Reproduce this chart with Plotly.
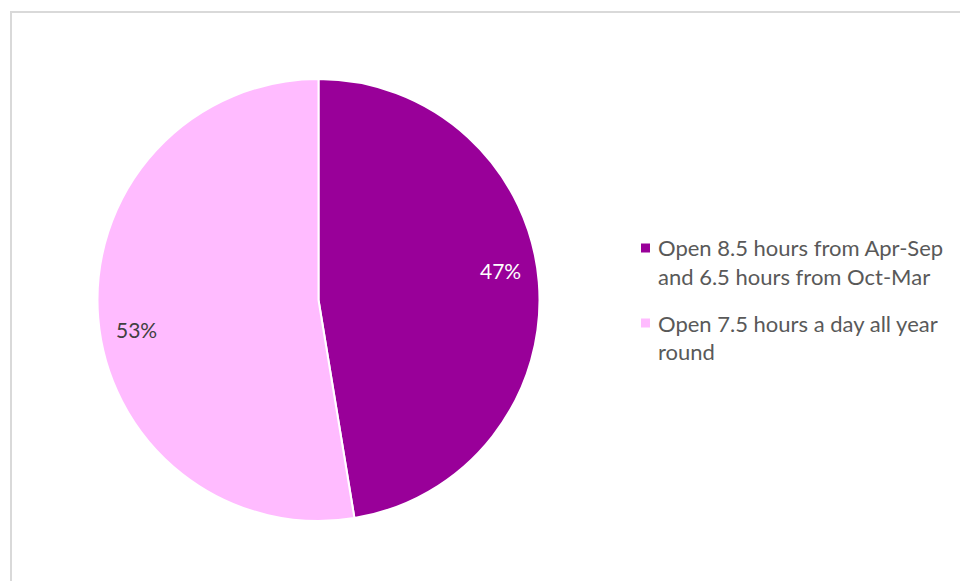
import math
import plotly.graph_objects as go

# Share of respondents by preferred opening pattern
labels = [
    "Open 8.5 hours from Apr-Sep and 6.5 hours from Oct-Mar",
    "Open 7.5 hours a day all year round",
]
legend_lines = [
    ["Open 8.5 hours from Apr-Sep", "and 6.5 hours from Oct-Mar"],
    ["Open 7.5 hours a day all year", "round"],
]
shares = [47.4, 52.6]
colors = ["#990099", "#FFBBFF"]
label_colors = ["#FFFFFF", "#404040"]

W, H = 960, 581
FONT = "Lato, 'Open Sans', sans-serif"

# pie geometry in pixels
cx, cy, r = 318.5, 300.0, 221.0
dom_x = [(cx - r) / W, (cx + r) / W]
dom_y = [1 - (cy + r) / H, 1 - (cy - r) / H]

fig = go.Figure(
    go.Pie(
        labels=labels,
        values=shares,
        sort=False,
        direction="clockwise",
        rotation=0,
        marker=dict(colors=colors, line=dict(color="#FFFFFF", width=2)),
        textinfo="none",
        hoverinfo="label+percent",
        showlegend=False,
        domain=dict(x=dom_x, y=dom_y),
    )
)

annotations = []
shapes = []

# percentage labels placed inside each slice
total = sum(shares)
start = 0.0
label_radius = 0.835 * r
angle_shift = 4.5
for val, col in zip(shares, label_colors):
    frac = val / total
    mid = (start + frac / 2) * 360 - angle_shift
    a = math.radians(mid)
    px = cx + label_radius * math.sin(a)
    py = cy - label_radius * math.cos(a)
    annotations.append(
        dict(
            x=px / W, y=1 - py / H, xref="paper", yref="paper",
            text=f"{round(frac * 100)}%", showarrow=False,
            font=dict(family=FONT, size=21, color=col),
            xanchor="center", yanchor="middle",
        )
    )
    start += frac

# legend: square swatch plus two-line caption for each slice
legend_tops = [248, 323]
line_gap = 28
for lines, col, y0 in zip(legend_lines, colors, legend_tops):
    shapes.append(
        dict(
            type="rect", xref="paper", yref="paper",
            x0=641 / W, x1=650 / W,
            y0=1 - (y0 - 4.5) / H, y1=1 - (y0 + 4.5) / H,
            fillcolor=col, line=dict(width=0),
        )
    )
    for i, t in enumerate(lines):
        annotations.append(
            dict(
                x=656 / W, y=1 - (y0 + i * line_gap) / H,
                xref="paper", yref="paper",
                text=t, showarrow=False,
                font=dict(family=FONT, size=22, color="#595959"),
                xanchor="left", yanchor="middle", align="left",
            )
        )

# chart frame
shapes.append(
    dict(
        type="rect", xref="paper", yref="paper",
        x0=11 / W, x1=1.02, y0=-0.02, y1=1 - 12 / H,
        line=dict(color="#D9D9D9", width=2), fillcolor="rgba(0,0,0,0)",
        layer="below",
    )
)

fig.update_layout(
    width=W, height=H,
    margin=dict(l=0, r=0, t=0, b=0),
    paper_bgcolor="#FFFFFF",
    plot_bgcolor="#FFFFFF",
    annotations=annotations,
    shapes=shapes,
)

fig.write_html("out.html")
